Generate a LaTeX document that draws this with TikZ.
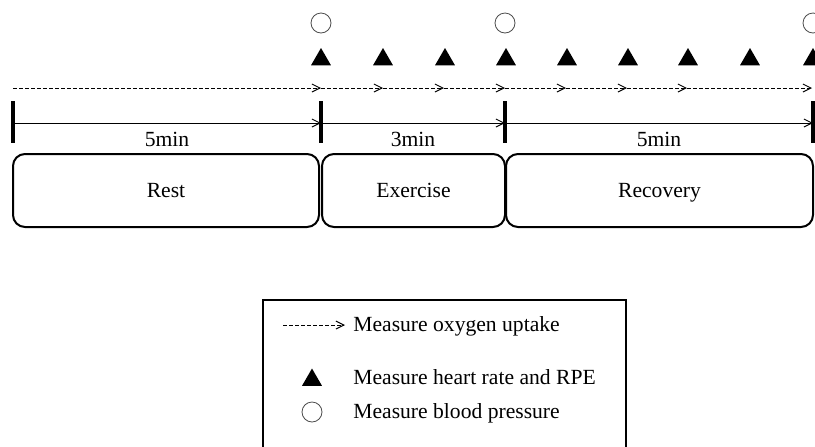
\documentclass[tikz,border=0pt]{standalone}
\usepackage{fontspec}
\setmainfont{Liberation Serif}
\usetikzlibrary{arrows.meta,shapes.geometric}

\tikzset{
  tickline/.style={line width=2pt},
  timeline/.style={line width=0.5pt,-{Straight Barb[length=4pt,width=4pt]}},
  o2line/.style={line width=0.5pt,dash pattern=on 2pt off 1pt,-{Straight Barb[length=4pt,width=4pt]}},
  hrmark/.style={regular polygon,regular polygon sides=3,fill=black,inner sep=0pt,minimum size=11.5pt},
  bpmark/.style={circle,draw=black!70,line width=0.4pt,inner sep=0pt,minimum size=10pt},
  phase/.style={draw,line width=1pt,rounded corners=6pt,minimum height=36.5pt,text depth=0pt},
  legendtext/.style={anchor=base west,inner sep=0pt}
}

\begin{document}
\begin{tikzpicture}[x=0.5pt,y=-0.5pt,font=\fontsize{10.8}{13}\selectfont]
	\useasboundingbox (0,0) rectangle (815,446);
	% time points
	\coordinate (T0) at (13,123);
	\coordinate (T1) at (321,123);
	\coordinate (T2) at (505,123);
	\coordinate (T3) at (813,123);
	\foreach \t in {T0,T1,T2,T3}
		\draw[tickline] ([yshift=11pt]\t) -- ([yshift=-10pt]\t);
	\draw[timeline] (T0) -- node[below=4.5pt,inner sep=0pt] {5min} (T1);
	\draw[timeline] (T1) -- node[below=4.5pt,inner sep=0pt] {3min} (T2);
	\draw[timeline] (T2) -- node[below=4.5pt,inner sep=0pt] {5min} (T3);
	% oxygen uptake
	\foreach \x [count=\i] in {13,321,383,444,505,566,627,687,812}
		\coordinate (m\i) at (\x,88);
	\foreach \i [evaluate=\i as \j using int(\i+1)] in {1,...,8}
		\draw[o2line] (m\i) -- (m\j);
	% heart rate and RPE
	\foreach \x [count=\i] in {321,383,445,506,567,628,688,750,813}
		\node[hrmark] (hr\i) at (\x,59.5) {};
	% blood pressure
	\node[bpmark] (bp1) at (321,23) {};
	\node[bpmark] (bp2) at (505,23) {};
	\node[bpmark] (bp3) at (813,23) {};
	% phases
	\node[phase,minimum width=153pt] (rest) at (166,190.5) {Rest};
	\node[phase,minimum width=91.5pt] (exercise) at (413.5,190.5) {Exercise};
	\node[phase,minimum width=153.5pt] (recovery) at (659.5,190.5) {Recovery};
	% legend
	\draw[line width=1pt] (263,470) -- (263,300) -- (626,300) -- (626,470);
	\node[legendtext] (o2text) at (353,331) {Measure oxygen uptake};
	\node[legendtext] (hrtext) at (353,384) {Measure heart rate and RPE};
	\node[legendtext] (bptext) at (353,418) {Measure blood pressure};
	\coordinate (o2start) at (283,325);
	\draw[o2line] (o2start) -- ([xshift=-4pt]o2text.west |- o2start);
	\node[hrmark] (hrkey) at (312,380) {};
	\node[bpmark] (bpkey) at (312,412) {};
\end{tikzpicture}
\end{document}
